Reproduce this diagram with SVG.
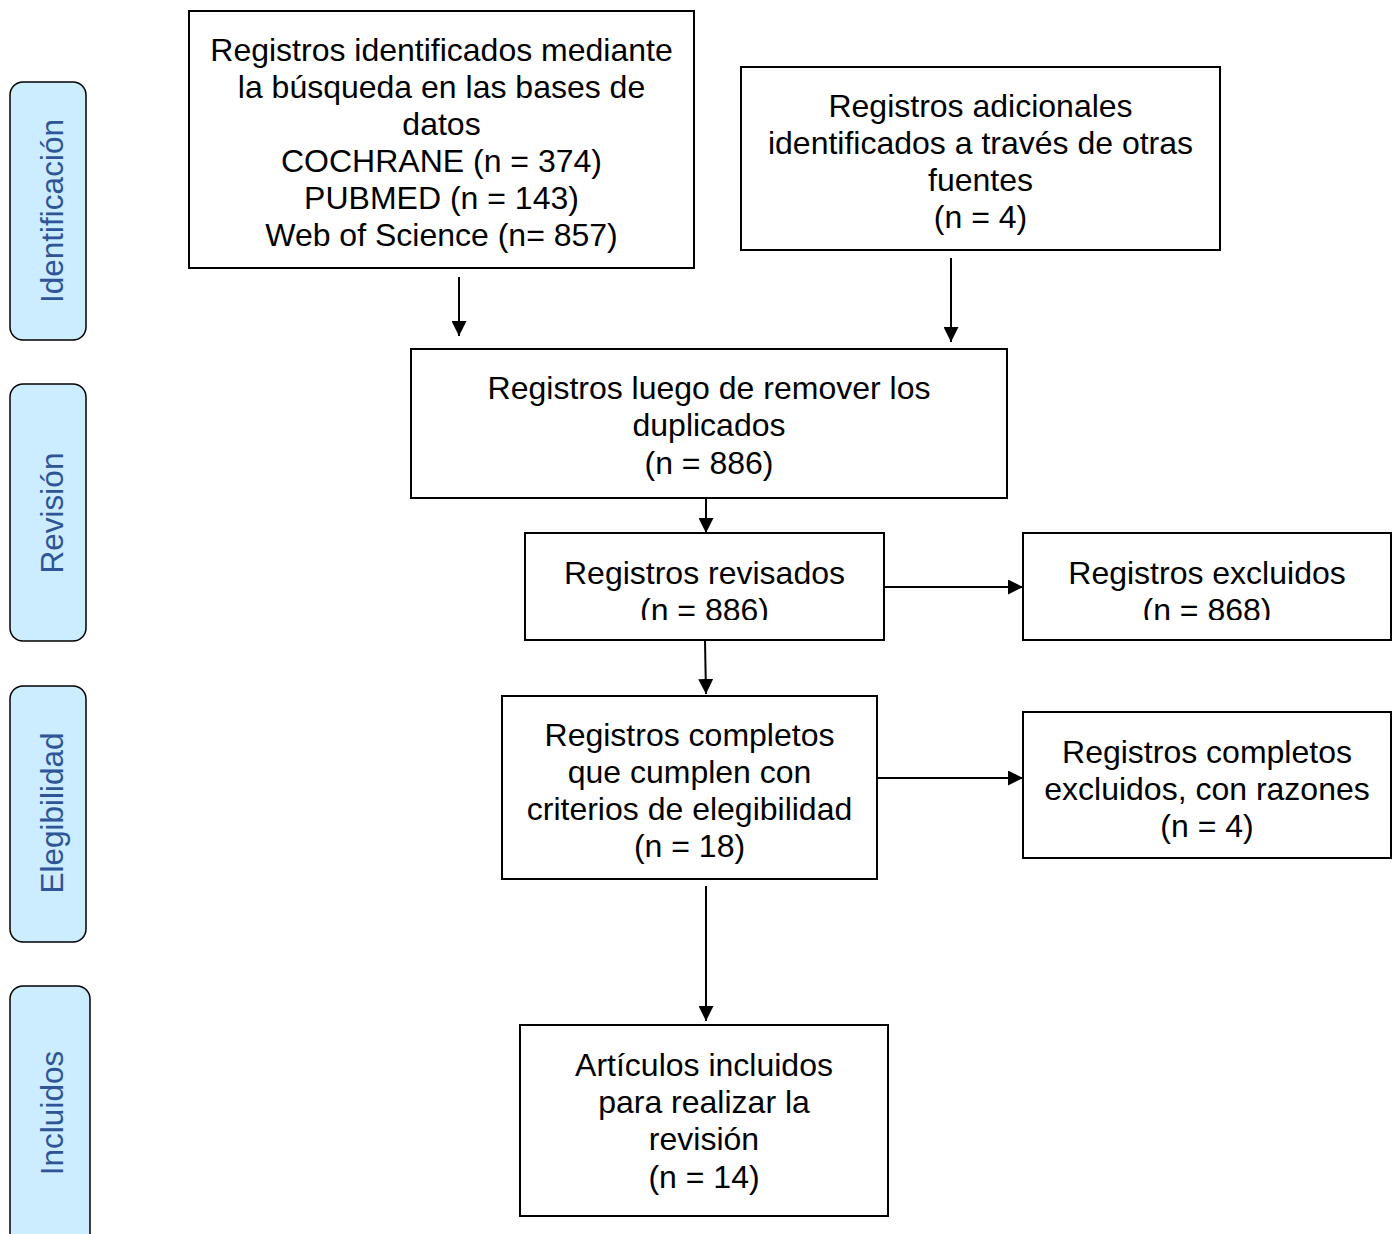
<svg xmlns="http://www.w3.org/2000/svg" width="1398" height="1234" viewBox="0 0 1398 1234">
<style>
.box{fill:#fff;stroke:#000;stroke-width:2}
.side{fill:#CCECFF;stroke:#000;stroke-width:1.5}
.t{font-family:"Liberation Sans",Arial,sans-serif;font-size:32px;fill:#000;text-anchor:middle}
.s{font-family:"Liberation Sans",Arial,sans-serif;font-size:31.5px;fill:#2F5597;text-anchor:middle}
.c{stroke:#000;stroke-width:2;fill:none;marker-end:url(#ah)}
</style>
<defs>
<marker id="ah" viewBox="0 0 15 15" refX="15" refY="7.5" markerWidth="15" markerHeight="15" markerUnits="userSpaceOnUse" orient="auto">
<path d="M0,0 L15,7.5 L0,15 Z" fill="#000"/>
</marker>
<clipPath id="clipD"><rect x="525" y="533" width="360" height="87"/></clipPath>
<clipPath id="clipE"><rect x="1023" y="533" width="369" height="87"/></clipPath>
</defs>
<rect width="1398" height="1234" fill="#fff"/>

<g id="side-identificacion">
<rect class="side" x="10" y="82" width="76" height="258" rx="13"/>
<text class="s" transform="translate(63,211) rotate(-90)">Identificación</text>
</g>
<g id="side-revision">
<rect class="side" x="10" y="384" width="76" height="257" rx="13"/>
<text class="s" transform="translate(63,513) rotate(-90)">Revisión</text>
</g>
<g id="side-elegibilidad">
<rect class="side" x="10" y="686" width="76" height="256" rx="13"/>
<text class="s" transform="translate(63,813) rotate(-90)">Elegibilidad</text>
</g>
<g id="side-incluidos">
<rect class="side" x="10" y="986" width="80" height="270" rx="13"/>
<text class="s" transform="translate(63,1113) rotate(-90)">Incluidos</text>
</g>

<g id="node-db">
<rect class="box" x="189" y="11" width="505" height="257"/>
<text class="t" x="441.5" y="61">Registros identificados mediante</text>
<text class="t" x="441.5" y="98">la búsqueda en las bases de</text>
<text class="t" x="441.5" y="135">datos</text>
<text class="t" x="441.5" y="172">COCHRANE (n = 374)</text>
<text class="t" x="441.5" y="209">PUBMED (n = 143)</text>
<text class="t" x="441.5" y="246">Web of Science (n= 857)</text>
</g>
<g id="node-other">
<rect class="box" x="741" y="67" width="479" height="183"/>
<text class="t" x="980.5" y="117">Registros adicionales</text>
<text class="t" x="980.5" y="154">identificados a través de otras</text>
<text class="t" x="980.5" y="191">fuentes</text>
<text class="t" x="980.5" y="228">(n = 4)</text>
</g>
<g id="node-dedup">
<rect class="box" x="411" y="349" width="596" height="149"/>
<text class="t" x="709" y="399">Registros luego de remover los</text>
<text class="t" x="709" y="436">duplicados</text>
<text class="t" x="709" y="474">(n = 886)</text>
</g>
<g id="node-screened">
<rect class="box" x="525" y="533" width="359" height="107"/>
<g clip-path="url(#clipD)">
<text class="t" x="704.5" y="584">Registros revisados</text>
<text class="t" x="704.5" y="621">(n = 886)</text>
</g>
</g>
<g id="node-excluded">
<rect class="box" x="1023" y="533" width="368" height="107"/>
<g clip-path="url(#clipE)">
<text class="t" x="1207" y="584">Registros excluidos</text>
<text class="t" x="1207" y="621">(n = 868)</text>
</g>
</g>
<g id="node-eligible">
<rect class="box" x="502" y="696" width="375" height="183"/>
<text class="t" x="689.5" y="746">Registros completos</text>
<text class="t" x="689.5" y="783">que cumplen con</text>
<text class="t" x="689.5" y="820">criterios de elegibilidad</text>
<text class="t" x="689.5" y="857">(n = 18)</text>
</g>
<g id="node-fulltext-excluded">
<rect class="box" x="1023" y="712" width="368" height="146"/>
<text class="t" x="1207" y="763">Registros completos</text>
<text class="t" x="1207" y="800">excluidos, con razones</text>
<text class="t" x="1207" y="837">(n = 4)</text>
</g>
<g id="node-included">
<rect class="box" x="520" y="1025" width="368" height="191"/>
<text class="t" x="704" y="1076">Artículos incluidos</text>
<text class="t" x="704" y="1113">para realizar la</text>
<text class="t" x="704" y="1150">revisión</text>
<text class="t" x="704" y="1188">(n = 14)</text>
</g>

<g id="connectors">
<line class="c" x1="459" y1="277" x2="459" y2="336"/>
<line class="c" x1="951" y1="258" x2="951" y2="342"/>
<line class="c" x1="706" y1="498" x2="706" y2="533"/>
<line class="c" x1="884" y1="587" x2="1023" y2="587"/>
<line class="c" x1="705" y1="641" x2="706" y2="694"/>
<line class="c" x1="877" y1="778" x2="1023" y2="778"/>
<line class="c" x1="706" y1="886" x2="706" y2="1021"/>
</g>
</svg>
